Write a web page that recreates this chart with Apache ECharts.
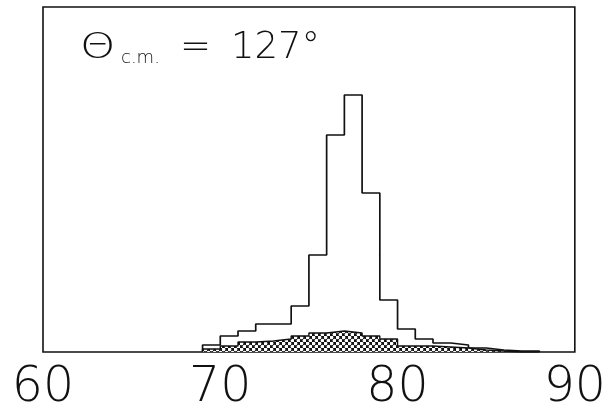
<!DOCTYPE html>
<html>
<head>
<meta charset="utf-8">
<script src="https://cdn.jsdelivr.net/npm/echarts@6/dist/echarts.min.js"></script>
<style>
  html, body { margin: 0; padding: 0; background: #fff; }
  #chart { width: 609px; height: 414px; }
</style>
</head>
<body>
<div id="chart"></div>
<script>
// Bin left edges (1-unit bins) and counts per bin
const binEdges = [69, 70, 71, 72, 73, 74, 75, 76, 77, 78, 79, 80, 81, 82, 83, 84, 85, 86, 87, 88];
const totalCounts = [7, 16, 21, 28, 28, 46, 97, 217, 257, 159, 52, 23, 13, 9, 7, 4, 2, 1, 1, 0];
const backgroundCounts = [3, 6, 10, 11, 13, 16, 19, 21, 19, 16, 13, 6, 6, 5, 4, 2, 1, 0, 0, 0];
const xTicks = [60, 70, 80, 90];

const FONT = '"DejaVu Sans", "Liberation Sans", sans-serif';

// Cross-hatch tile: black lattice with white round holes
function hatchTile() {
  const c = document.createElement('canvas');
  c.width = 6; c.height = 6;
  const g = c.getContext('2d');
  g.fillStyle = '#111';
  g.fillRect(0, 0, 6, 6);
  g.fillStyle = '#fff';
  [[1.5, 1.5], [4.5, 4.5]].forEach(([cx, cy]) => {
    g.beginPath(); g.arc(cx, cy, 1.85, 0, Math.PI * 2); g.fill();
  });
  return c;
}

function pairs(xs, ys) {
  return xs.map((x, i) => [x, ys[i]]);
}

const chart = echarts.init(document.getElementById('chart'), null, { renderer: 'canvas' });

chart.setOption({
  animation: false,
  backgroundColor: '#fff',
  grid: {
    left: 43, right: 33, top: 7, bottom: 62,
    show: true, borderColor: '#111', borderWidth: 1.6, backgroundColor: 'transparent'
  },
  xAxis: {
    type: 'value', min: xTicks[0], max: xTicks[xTicks.length - 1], interval: 10,
    axisLine: { show: false }, axisTick: { show: false }, splitLine: { show: false },
    axisLabel: {
      show: true, margin: 12, color: '#111', fontSize: 49, fontFamily: FONT, fontWeight: 200,
      showMinLabel: true, showMaxLabel: true
    }
  },
  yAxis: {
    type: 'value', min: 0, max: 345, show: false,
    splitLine: { show: false }
  },
  graphic: [
    { type: 'text', x: 80, y: 31, scaleX: 1.25, style: { text: 'Θ', font: '200 36px ' + FONT, fill: '#111' } },
    { type: 'text', left: 121, top: 49, style: { text: 'c.m.', font: '200 18px ' + FONT, fill: '#111' } },
    { type: 'text', left: 180, top: 30, style: { text: '=', font: '200 37px ' + FONT, fill: '#111' } },
    { type: 'text', left: 231, top: 30, style: { text: '127°', font: '200 37px ' + FONT, fill: '#111' } }
  ],
  series: [
    {
      name: 'total',
      type: 'line',
      step: 'end',
      symbol: 'none',
      z: 2,
      lineStyle: { color: '#111', width: 1.7 },
      data: [[binEdges[0], 0]].concat(pairs(binEdges, totalCounts))
    },
    {
      name: 'background',
      type: 'line',
      step: 'end',
      symbol: 'none',
      z: 3,
      lineStyle: { color: '#111', width: 1.4 },
      areaStyle: { color: { image: hatchTile(), repeat: 'repeat' }, opacity: 1 },
      data: [[binEdges[0], 0]].concat(pairs(binEdges, backgroundCounts))
    }
  ]
});
</script>
</body>
</html>
